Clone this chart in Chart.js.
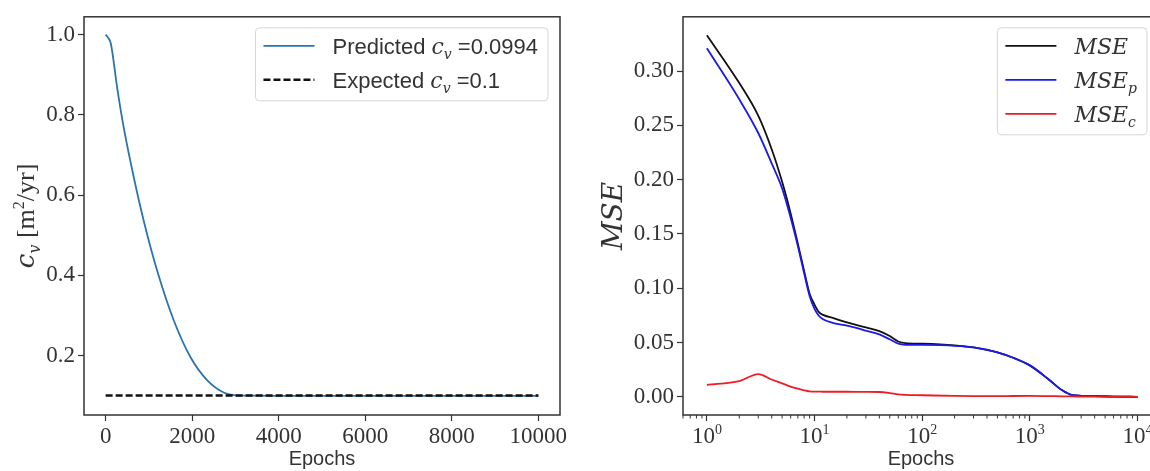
<!DOCTYPE html>
<html>
<head>
<meta charset="utf-8">
<script src="https://cdn.jsdelivr.net/npm/chart.js@4.4.1/dist/chart.umd.min.js"></script>
<style>
    html, body { margin: 0; padding: 0; background: #fff; }
    body { width: 1150px; height: 471px; overflow: hidden; position: relative; }
    .panel { position: absolute; top: 0; width: 580px; height: 471px; }
    #leftPanel { left: 0; }
    #rightPanel { left: 600px; }
</style>
</head>
<body>
<div class="panel" id="leftPanel"><canvas id="cvChart"></canvas></div>
<div class="panel" id="rightPanel"><canvas id="mseChart"></canvas></div>
<script>
// left panel: consolidation coefficient vs epochs
const cvEpochs = [0, 60, 120, 270, 424, 655, 887, 1195, 1580, 1965, 2350, 2740, 3000, 3300, 4000, 6000, 8000, 10000];
const cvPredicted = [1.0, 0.992, 0.978, 0.865, 0.765, 0.642, 0.533, 0.41, 0.286, 0.195, 0.138, 0.107, 0.1005, 0.0996, 0.0994, 0.0994, 0.0994, 0.0994];
const cvExpectedEpochs = [0, 10000];
const cvExpected = [0.1, 0.1];
const cvXTicks = [0, 2000, 4000, 6000, 8000, 10000];
const cvYTicks = [0.2, 0.4, 0.6, 0.8, 1.0];

// right panel: losses vs epochs (log x)
const mseEpochs = [1, 2, 3, 4, 5, 6, 7, 8, 9, 10, 11, 12, 15, 20, 30, 40, 50, 60, 70, 100, 200, 300, 500, 700, 1000, 1500, 2000, 2500, 3000, 4000, 6000, 10000];
const mseTotal = [0.333, 0.289, 0.259, 0.228, 0.198, 0.169, 0.141, 0.116, 0.095, 0.085, 0.078, 0.0755, 0.0725, 0.0685, 0.064, 0.0605, 0.056, 0.051, 0.0495, 0.049, 0.0475, 0.0455, 0.041, 0.036, 0.029, 0.016, 0.006, 0.0015, 0.001, 0.0008, 0.0003, 0.0];
const msePde = [0.321, 0.274, 0.243, 0.215, 0.192, 0.165, 0.139, 0.114, 0.093, 0.081, 0.0745, 0.0715, 0.068, 0.0655, 0.061, 0.0575, 0.053, 0.049, 0.048, 0.0478, 0.047, 0.0455, 0.041, 0.036, 0.029, 0.016, 0.006, 0.0015, 0.001, 0.0008, 0.0003, 0.0];
const mseCond = [0.011, 0.0145, 0.021, 0.016, 0.0125, 0.0095, 0.0075, 0.006, 0.005, 0.0048, 0.0048, 0.0047, 0.0047, 0.0047, 0.0046, 0.0045, 0.0035, 0.0022, 0.0018, 0.0015, 0.0009, 0.0007, 0.0006, 0.0008, 0.0009, 0.0007, 0.0005, 0.0004, 0.0003, 0.0002, 0.0001, 0.0];
const mseXTicks = [1, 10, 100, 1000, 10000];
const mseXTickLabels = [['10', '0'], ['10', '1'], ['10', '2'], ['10', '3'], ['10', '4']];
const mseYTicks = [0, 0.05, 0.1, 0.15, 0.2, 0.25, 0.3];

// text pieces: [style, text]
const cvLegendLabels = [
    [['sans', 'Predicted '], ['it', 'c'], ['sub', 'v'], ['sans', ' =0.0994']],
    [['sans', 'Expected '], ['it', 'c'], ['sub', 'v'], ['sans', ' =0.1']]
];
const cvYTitle = [['it', 'c'], ['sub', 'v'], ['rm', ' [m'], ['sup', '2'], ['rm', '/yr]']];
const mseLegendLabels = [
    [['it', 'MSE']],
    [['it', 'MSE'], ['sub', 'p']],
    [['it', 'MSE'], ['sub', 'c']]
];
const mseYTitle = [['it', 'MSE']];

const SERIF = '"Liberation Serif", "DejaVu Serif", serif';
const MATH = '"DejaVu Serif", "Liberation Serif", serif';
const SANS = '"Liberation Sans", "DejaVu Sans", sans-serif';
const INK = '#333';
const AXIS = '#333';

function styleOf(kind, size) {
    const small = Math.round(size * 0.62);
    switch (kind) {
        case 'sans': return { font: `${size}px ${SANS}`, dy: 0 };
        case 'it': return { font: `italic ${size}px ${MATH}`, dy: 0 };
        case 'sub': return { font: `italic ${small}px ${MATH}`, dy: size * 0.22 };
        case 'sup': return { font: `${small}px ${SERIF}`, dy: -size * 0.38 };
        default: return { font: `${size}px ${SERIF}`, dy: 0 };
    }
}

function measureRich(ctx, parts, size) {
    let w = 0;
    parts.forEach(([s, t]) => {
        ctx.font = styleOf(s, size).font;
        w += ctx.measureText(t).width;
    });
    return w;
}

function drawRich(ctx, parts, x, y, size) {
    ctx.textAlign = 'left';
    ctx.textBaseline = 'alphabetic';
    ctx.fillStyle = INK;
    let cx = x;
    parts.forEach(([s, t]) => {
        const st = styleOf(s, size);
        ctx.font = st.font;
        ctx.fillText(t, cx, y + st.dy);
        cx += ctx.measureText(t).width;
    });
}

const decor = {
    id: 'decor',
    afterDraw(chart, args, opts) {
        const ctx = chart.ctx;
        const area = chart.chartArea;
        ctx.save();

        // frame on all four sides
        ctx.strokeStyle = AXIS;
        ctx.lineWidth = 1.5;
        ctx.setLineDash([]);
        ctx.strokeRect(area.left, area.top, area.right - area.left, area.bottom - area.top);

        // log axis: minor ticks and 10^k labels
        if (opts.logLabels) {
            const xs = chart.scales.x;
            ctx.lineWidth = 1;
            for (let k = -1; k <= 4; k++) {
                for (let m = 2; m <= 9; m++) {
                    const v = m * Math.pow(10, k);
                    if (v < xs.min || v > xs.max) continue;
                    const px = xs.getPixelForValue(v);
                    ctx.beginPath();
                    ctx.moveTo(px, area.bottom);
                    ctx.lineTo(px, area.bottom + 3.5);
                    ctx.stroke();
                }
            }
            opts.logTicks.forEach((v, i) => {
                const parts = [['rm', opts.logLabels[i][0]], ['sup', opts.logLabels[i][1]]];
                const w = measureRich(ctx, parts, 23);
                drawRich(ctx, parts, xs.getPixelForValue(v) - w / 2, area.bottom + 28, 23);
            });
        }

        // y axis title
        const yw = measureRich(ctx, opts.yTitle, opts.yTitleSize);
        ctx.save();
        ctx.translate(area.left - opts.yTitleOffset, (area.top + area.bottom) / 2);
        ctx.rotate(-Math.PI / 2);
        drawRich(ctx, opts.yTitle, -yw / 2, 0, opts.yTitleSize);
        ctx.restore();

        // legend
        const labels = opts.legend;
        const size = 22;
        const widths = labels.map(l => measureRich(ctx, l, size));
        const pad = 8, handle = 51, gap = 18, rowH = 34;
        const w = pad + handle + gap + Math.max(...widths) + 10;
        const h = 18 + rowH * (labels.length - 1) + 21;
        const x0 = area.right - 12 - w;
        const y0 = area.top + 11;
        ctx.beginPath();
        ctx.roundRect(x0, y0, w, h, 4);
        ctx.fillStyle = 'rgba(255,255,255,0.85)';
        ctx.fill();
        ctx.strokeStyle = '#d6d6d6';
        ctx.lineWidth = 1;
        ctx.stroke();
        labels.forEach((l, i) => {
            const ds = chart.data.datasets[i];
            const y = y0 + 18 + i * rowH;
            ctx.strokeStyle = ds.borderColor;
            ctx.lineWidth = ds.borderWidth;
            ctx.setLineDash(ds.borderDash || []);
            ctx.beginPath();
            ctx.moveTo(x0 + pad, y);
            ctx.lineTo(x0 + pad + handle, y);
            ctx.stroke();
            ctx.setLineDash([]);
            drawRich(ctx, l, x0 + pad + handle + gap, y + 8, size);
        });
        ctx.restore();
    }
};

function axisStyle(extra) {
    return Object.assign({
        grid: { display: true, drawOnChartArea: false, drawTicks: true, tickLength: 6, tickColor: AXIS, tickWidth: 1.2 },
        border: { display: false }
    }, extra);
}

function tickFont() {
    return { family: SERIF, size: 23 };
}

function xTitle() {
    return { display: true, text: 'Epochs', color: INK, font: { family: SANS, size: 20 }, padding: { top: 0, bottom: 0 } };
}

// left chart
new Chart(document.getElementById('cvChart').getContext('2d'), {
    type: 'line',
    data: {
        datasets: [{
            label: 'Predicted',
            data: cvEpochs.map((e, i) => ({ x: e, y: cvPredicted[i] })),
            borderColor: '#2a74b0',
            borderWidth: 1.8,
            pointRadius: 0,
            cubicInterpolationMode: 'monotone',
            order: 2
        }, {
            label: 'Expected',
            data: cvExpectedEpochs.map((e, i) => ({ x: e, y: cvExpected[i] })),
            borderColor: '#111',
            borderWidth: 2.4,
            borderDash: [7, 3],
            pointRadius: 0,
            order: 1
        }]
    },
    options: {
        responsive: true,
        maintainAspectRatio: false,
        animation: false,
        layout: { padding: { left: 0, right: 20, top: 14, bottom: 0 } },
        plugins: {
            legend: { display: false },
            tooltip: { enabled: false },
            decor: { yTitle: cvYTitle, yTitleSize: 26, yTitleOffset: 50, legend: cvLegendLabels }
        },
        scales: {
            x: axisStyle({
                type: 'linear',
                min: -500,
                max: 10500,
                afterBuildTicks: s => { s.ticks = cvXTicks.map(v => ({ value: v })); },
                afterFit: s => { s.height = 56; },
                ticks: { color: INK, font: tickFont(), padding: 2, maxRotation: 0, autoSkip: false, callback: v => String(v) },
                title: xTitle()
            }),
            y: axisStyle({
                type: 'linear',
                min: 0.0515,
                max: 1.0446,
                afterBuildTicks: s => { s.ticks = cvYTicks.map(v => ({ value: v })); },
                afterFit: s => { s.width = 84; },
                ticks: { color: INK, font: tickFont(), padding: 3, callback: v => v.toFixed(1) }
            })
        }
    },
    plugins: [decor]
});

// right chart
new Chart(document.getElementById('mseChart').getContext('2d'), {
    type: 'line',
    data: {
        datasets: [{
            label: 'MSE',
            data: mseEpochs.map((e, i) => ({ x: e, y: mseTotal[i] })),
            borderColor: '#111',
            borderWidth: 1.8,
            pointRadius: 0,
            cubicInterpolationMode: 'monotone',
            order: 3
        }, {
            label: 'MSE_p',
            data: mseEpochs.map((e, i) => ({ x: e, y: msePde[i] })),
            borderColor: '#1a1aee',
            borderWidth: 1.8,
            pointRadius: 0,
            cubicInterpolationMode: 'monotone',
            order: 2
        }, {
            label: 'MSE_c',
            data: mseEpochs.map((e, i) => ({ x: e, y: mseCond[i] })),
            borderColor: '#ee1c25',
            borderWidth: 1.8,
            pointRadius: 0,
            cubicInterpolationMode: 'monotone',
            order: 1
        }]
    },
    options: {
        responsive: true,
        maintainAspectRatio: false,
        animation: false,
        layout: { padding: { left: 0, right: 21, top: 14, bottom: 0 } },
        plugins: {
            legend: { display: false },
            tooltip: { enabled: false },
            decor: {
                yTitle: mseYTitle, yTitleSize: 28, yTitleOffset: 61, legend: mseLegendLabels,
                logTicks: mseXTicks, logLabels: mseXTickLabels
            }
        },
        scales: {
            x: axisStyle({
                type: 'logarithmic',
                min: Math.pow(10, -0.2),
                max: Math.pow(10, 4.2),
                afterBuildTicks: s => { s.ticks = mseXTicks.map(v => ({ value: v })); },
                afterFit: s => { s.height = 56; },
                ticks: { display: false },
                title: xTitle()
            }),
            y: axisStyle({
                type: 'linear',
                min: -0.0167,
                max: 0.35,
                afterBuildTicks: s => { s.ticks = mseYTicks.map(v => ({ value: v })); },
                afterFit: s => { s.width = 83; },
                ticks: { color: INK, font: tickFont(), padding: 3, callback: v => v.toFixed(2) }
            })
        }
    },
    plugins: [decor]
});
</script>
</body>
</html>
